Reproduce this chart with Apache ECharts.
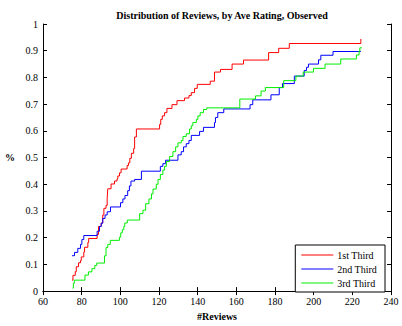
<!DOCTYPE html>
<html>
<head>
<meta charset="utf-8">
<script src="https://cdn.jsdelivr.net/npm/echarts@6/dist/echarts.min.js"></script>
<style>html,body{margin:0;padding:0;background:#fff;}#c{width:402px;height:326px;}</style>
</head>
<body>
<div id="c"></div>
<script>
var titleText = 'Distribution of Reviews, by Ave Rating, Observed';
var xName = '#Reviews';
var yName = '%';
var seriesNames = ['1st Third', '2nd Third', '3rd Third'];
var xTicks = [60, 80, 100, 120, 140, 160, 180, 200, 220, 240];
var yTicks = [0, 0.1, 0.2, 0.3, 0.4, 0.5, 0.6, 0.7, 0.8, 0.9, 1];

var firstThird = [[75.0,0.041],[75.5,0.059],[76.7,0.073],[77.2,0.091],[78.4,0.106],[79.4,0.114],[79.8,0.128],[81.1,0.146],[81.5,0.164],[83.2,0.182],[83.6,0.197],[88.0,0.212],[88.7,0.242],[90.1,0.255],[90.9,0.285],[91.5,0.31],[92.6,0.321],[93.2,0.347],[93.5,0.383],[95.2,0.401],[97.0,0.412],[98.3,0.42],[98.7,0.431],[99.6,0.443],[100.4,0.457],[103.5,0.47],[104.2,0.48],[104.9,0.497],[105.7,0.516],[106.9,0.534],[107.4,0.577],[108.3,0.607],[120.3,0.624],[120.9,0.643],[121.7,0.656],[122.9,0.668],[124.1,0.684],[126.7,0.698],[129.3,0.713],[133.2,0.723],[135.5,0.732],[136.7,0.743],[138.4,0.759],[139.8,0.774],[146.5,0.786],[148.7,0.82],[151.8,0.83],[157.8,0.85],[163.7,0.865],[176.7,0.893],[181.9,0.909],[187.4,0.927],[224.4,0.944]];

var secondThird = [[75.0,0.1325],[76.3,0.145],[78.0,0.16],[79.4,0.175],[80.1,0.193],[81.1,0.208],[88.0,0.224],[89.2,0.242],[90.1,0.254],[90.9,0.272],[92.1,0.285],[93.2,0.297],[94.9,0.315],[100.1,0.331],[101.3,0.345],[102.4,0.358],[103.8,0.376],[104.7,0.394],[105.5,0.412],[107.4,0.418],[110.9,0.449],[120.7,0.467],[122.0,0.477],[123.4,0.49],[129.8,0.51],[131.5,0.522],[132.7,0.54],[134.1,0.552],[135.5,0.564],[136.7,0.583],[141.0,0.598],[143.0,0.613],[148.7,0.631],[149.2,0.65],[150.4,0.668],[153.5,0.682],[167.1,0.698],[168.5,0.716],[177.9,0.735],[182.2,0.762],[183.9,0.777],[190.0,0.805],[195.1,0.826],[196.3,0.838],[197.3,0.85],[202.5,0.866],[203.7,0.883],[210.0,0.897],[224.4,0.897]];

var thirdThird = [[75.3,0.011],[75.7,0.029],[76.2,0.041],[81.7,0.06],[83.5,0.072],[85.3,0.084],[86.8,0.096],[87.8,0.105],[91.8,0.132],[92.6,0.163],[93.5,0.175],[94.8,0.19],[99.5,0.202],[100.2,0.218],[101.0,0.23],[101.8,0.242],[102.3,0.255],[103.6,0.266],[110.0,0.29],[111.7,0.303],[113.1,0.327],[114.8,0.345],[116.1,0.364],[116.9,0.382],[118.6,0.40],[119.5,0.418],[120.7,0.437],[122.0,0.453],[122.9,0.467],[123.8,0.485],[125.5,0.504],[127.2,0.522],[128.6,0.54],[129.8,0.555],[131.5,0.564],[132.4,0.579],[134.1,0.589],[135.8,0.607],[136.7,0.619],[137.5,0.631],[139.3,0.643],[140.1,0.656],[141.3,0.668],[143.0,0.68],[144.7,0.686],[161.8,0.719],[169.9,0.731],[172.8,0.749],[175.0,0.762],[184.5,0.788],[190.8,0.805],[194.6,0.82],[199.9,0.834],[205.9,0.85],[214.0,0.869],[222.1,0.884],[223.5,0.899],[223.9,0.911],[224.9,0.911]];

var seriesData = [firstThird, secondThird, thirdThird];
var seriesColors = ['#ff0000', '#0000ff', '#00ee00'];

var font = 'Liberation Serif';
var chart = echarts.init(document.getElementById('c'), null, {renderer: 'svg'});

function yFmt(v) {
  if (Math.abs(v) < 1e-9) return '0';
  if (Math.abs(v - 1) < 1e-9) return '1';
  return v.toFixed(1);
}

var axisCommon = {
  axisLine: {show: true, lineStyle: {color: '#000', width: 1}},
  axisTick: {show: true, inside: true, length: 4, lineStyle: {color: '#000'}},
  splitLine: {show: false}
};

var option = {
  animation: false,
  backgroundColor: '#fff',
  color: seriesColors,
  title: {
    text: titleText,
    left: 217, top: 5, textAlign: 'center',
    textStyle: {fontFamily: font, fontSize: 10, fontWeight: 'bold', color: '#000'}
  },
  grid: {left: 43, right: 11, top: 24, bottom: 28, containLabel: false},
  legend: {
    orient: 'vertical',
    right: 17, bottom: 34,
    backgroundColor: '#fff',
    borderColor: '#000', borderWidth: 1, borderRadius: 0,
    padding: [5, 8, 4, 6],
    itemGap: 4,
    itemWidth: 32, itemHeight: 11,
    icon: 'path://M0,5 L32,5 L32,6 L0,6 Z',
    textStyle: {fontFamily: font, fontSize: 10, color: '#000', padding: [0, 0, 0, -1]},
    data: seriesNames
  },
  xAxis: [
    Object.assign({}, axisCommon, {
      type: 'value', min: 60, max: 240, interval: 20, position: 'bottom',
      name: xName, nameLocation: 'middle', nameGap: 17,
      nameTextStyle: {fontFamily: font, fontSize: 10, fontWeight: 'bold', color: '#000'},
      axisLabel: {fontFamily: font, fontSize: 10, color: '#000', margin: 5,
        formatter: function (v) { return xTicks.indexOf(v) >= 0 ? String(v) : ''; }}
    }),
    Object.assign({}, axisCommon, {
      type: 'value', min: 60, max: 240, interval: 20, position: 'top',
      axisLabel: {show: false}
    })
  ],
  yAxis: [
    Object.assign({}, axisCommon, {
      type: 'value', min: 0, max: 1, interval: 0.1, position: 'left',
      name: yName, nameLocation: 'middle', nameGap: 28, nameRotate: 0,
      nameTextStyle: {fontFamily: font, fontSize: 10, fontWeight: 'bold', color: '#000'},
      axisLabel: {fontFamily: font, fontSize: 10, color: '#000', margin: 5, formatter: yFmt}
    }),
    Object.assign({}, axisCommon, {
      type: 'value', min: 0, max: 1, interval: 0.1, position: 'right',
      axisLabel: {show: false}
    })
  ],
  series: seriesNames.map(function (n, i) {
    return {
      name: n, type: 'line', step: 'end', data: seriesData[i],
      xAxisIndex: 0, yAxisIndex: 0,
      showSymbol: false, symbol: 'none',
      silent: true,
      emphasis: {disabled: true},
      color: seriesColors[i],
      lineStyle: {color: seriesColors[i], width: 1, opacity: 1},
      itemStyle: {color: seriesColors[i]}
    };
  })
};
chart.setOption(option);
</script>
</body>
</html>
